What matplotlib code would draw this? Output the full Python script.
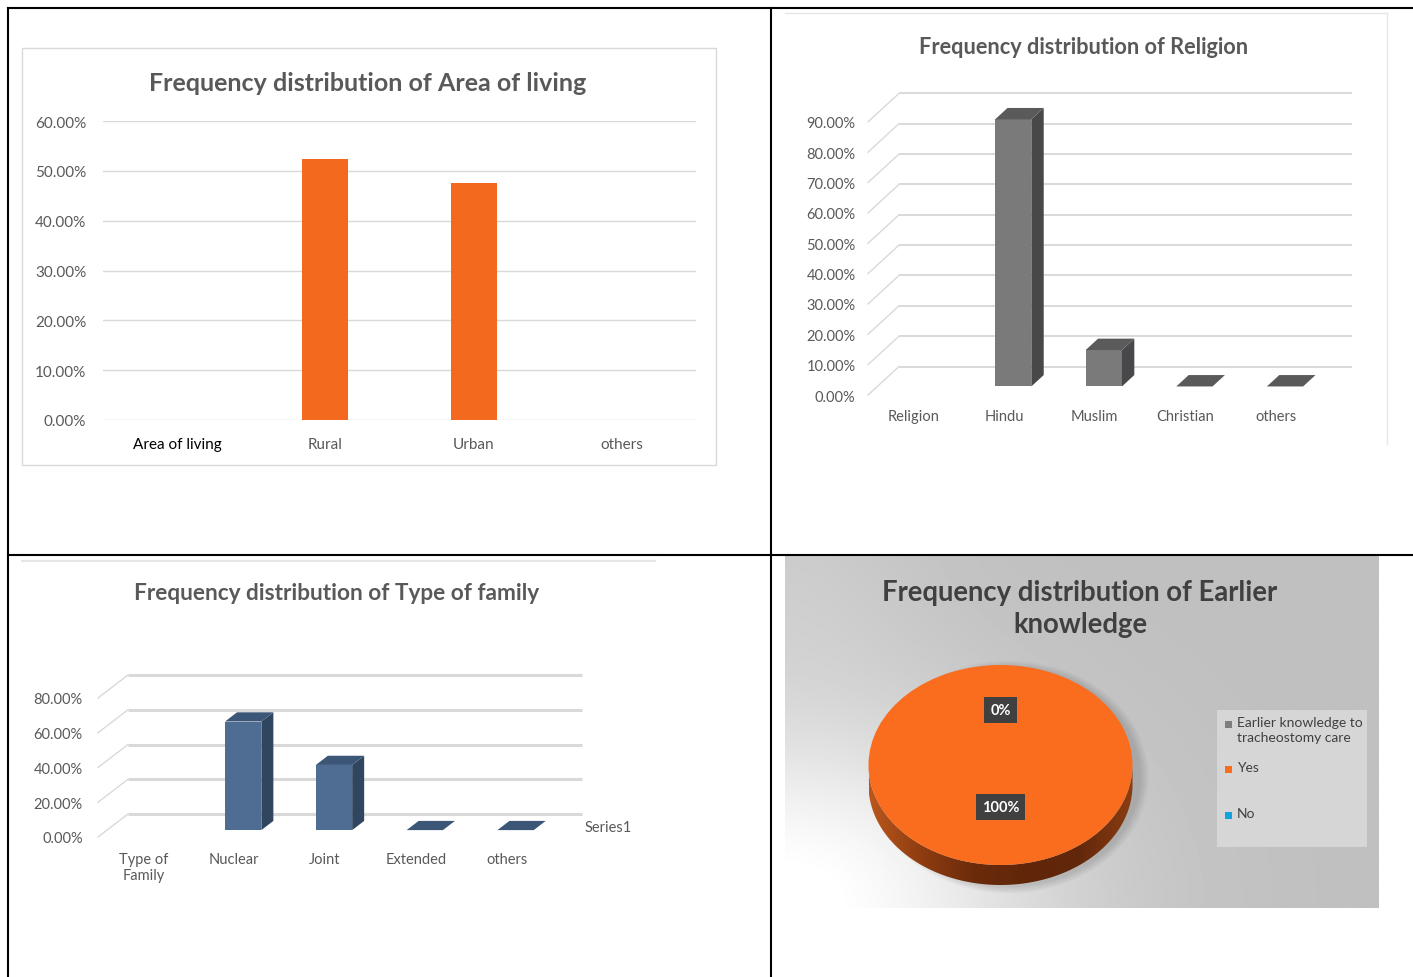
import numpy as np
import matplotlib
matplotlib.use('Agg')
import matplotlib.pyplot as plt
from matplotlib.patches import Rectangle, Polygon, Ellipse
from matplotlib.lines import Line2D
from matplotlib.colors import LinearSegmentedColormap

# ---------------- data ----------------
area_categories = ['Area of living', 'Rural', 'Urban', 'others']
area_values = [0.0, 52.4, 47.6, 0.0]
area_yticks = [0, 10, 20, 30, 40, 50, 60]

religion_categories = ['Religion', 'Hindu', 'Muslim', 'Christian', 'others']
religion_values = [None, 88.0, 12.0, 0.0, 0.0]
religion_yticks = [0, 10, 20, 30, 40, 50, 60, 70, 80, 90]

family_categories = ['Type of\nFamily', 'Nuclear', 'Joint', 'Extended', 'others']
family_values = [None, 62.5, 37.5, 0.0, 0.0]
family_yticks = [0, 20, 40, 60, 80]
family_series = 'Series1'

knowledge_labels = ['Earlier knowledge to\ntracheostomy care', 'Yes', 'No']
knowledge_values = [0, 100, 0]

titles = ['Frequency distribution of Area of living',
          'Frequency distribution of Religion',
          'Frequency distribution of Type of family',
          'Frequency distribution of Earlier\nknowledge']

# ---------------- figure helpers ----------------
W, H = 1413, 978
plt.rcParams['font.family'] = ['Lato', 'DejaVu Sans']
fig = plt.figure(figsize=(W / 100, H / 100), dpi=100)
fig.patch.set_facecolor('white')
GRAY = '#595959'


def px_axes(x0, y0, x1, y1, **kw):
    return fig.add_axes([x0 / W, 1 - y1 / H, (x1 - x0) / W, (y1 - y0) / H], **kw)


def fig_line(xs, ys, **kw):
    fig.add_artist(Line2D([x / W for x in xs], [1 - y / H for y in ys],
                          transform=fig.transFigure, **kw))


def fig_rect(x0, y0, x1, y1, **kw):
    fig.add_artist(Rectangle((x0 / W, 1 - y1 / H), (x1 - x0) / W, (y1 - y0) / H,
                             transform=fig.transFigure, **kw))


def fig_text(x, y, s, **kw):
    return fig.text(x / W, 1 - y / H, s, **kw)


# ---------------- table borders ----------------
fig_line([8, 1413], [9, 9], color='black', lw=1.5)
fig_line([8, 8], [9, 978], color='black', lw=1.5)
fig_line([771, 771], [9, 978], color='black', lw=1.5)
fig_line([8, 1413], [556, 556], color='black', lw=1.5)

# ---------------- chart 1 : Area of living ----------------
fig_rect(22, 49, 716, 466, fc='none', ec='#D9D9D9', lw=1)
fig_text(368, 84, titles[0], ha='center', va='center', fontsize=18,
         fontweight='bold', color=GRAY)
ax1 = px_axes(103, 122, 696, 421)
x1 = np.arange(len(area_categories))
ax1.bar(x1, area_values, width=0.31, color='#F36A1F', zorder=3)
ax1.set_xlim(-0.5, len(area_categories) - 0.5)
ax1.set_ylim(0, area_yticks[-1])
ax1.set_yticks(area_yticks)
ax1.set_yticklabels([f'{v:.2f}%' for v in area_yticks])
ax1.set_xticks(x1)
ax1.set_xticklabels(area_categories)
ax1.yaxis.grid(True, color='#D9D9D9', lw=1)
ax1.set_axisbelow(True)
for s in ax1.spines.values():
    s.set_visible(False)
ax1.tick_params(axis='both', length=0, labelsize=11, labelcolor=GRAY)
ax1.tick_params(axis='x', pad=12)
ax1.tick_params(axis='y', pad=12)
for i, lab in enumerate(ax1.get_xticklabels()):
    lab.set_color('black' if i == 0 else GRAY)


# ---------------- oblique 3D column chart helper ----------------
def oblique_chart(cats, vals, yticks, front_left, front_right, zero_y, px_per_unit,
                  depth_px, faces, grid_lw, diag_lw, fs, xpad, ypad):
    n = len(cats)
    cat_px = (front_right - front_left) / n
    ddx = depth_px[0] / cat_px
    ddy = depth_px[1] / px_per_unit
    right_px = front_right + depth_px[0]
    top_px = zero_y - (yticks[-1] * px_per_unit + depth_px[1]) - 3
    ax = px_axes(front_left, top_px, right_px, zero_y)
    ax.set_xlim(0, n + ddx)
    ax.set_ylim(0, (zero_y - top_px) / px_per_unit)
    for v in yticks:
        ax.plot([ddx, n + ddx], [v + ddy, v + ddy], color='#D9D9D9', lw=grid_lw,
                solid_capstyle='butt', zorder=1, clip_on=False)
        ax.plot([0, ddx], [v, v + ddy], color='#D9D9D9', lw=diag_lw, zorder=1,
                clip_on=False)
    w, d0, d1 = 0.4, 0.3, 0.7
    front_c, side_c, top_c = faces
    for i, v in enumerate(vals):
        if v is None:
            continue
        c = i + 0.5
        xl = c - w / 2 + d0 * ddx
        xr = c + w / 2 + d0 * ddx
        yb = d0 * ddy
        yt = yb + v
        ex = (d1 - d0) * ddx
        ey = (d1 - d0) * ddy
        if v > 0:
            ax.add_patch(Polygon([(xl, yb), (xr, yb), (xr, yt), (xl, yt)], closed=True,
                                 fc=front_c, ec='none', zorder=3))
            ax.add_patch(Polygon([(xr, yb), (xr + ex, yb + ey), (xr + ex, yt + ey), (xr, yt)],
                                 closed=True, fc=side_c, ec='none', zorder=3))
        ax.add_patch(Polygon([(xl, yt), (xr, yt), (xr + ex, yt + ey), (xl + ex, yt + ey)],
                             closed=True, fc=top_c, ec='none', zorder=3))
    ax.set_xticks(np.arange(n) + 0.5)
    ax.set_xticklabels(cats)
    ax.set_yticks(yticks)
    ax.set_yticklabels([f'{v:.2f}%' for v in yticks])
    for s in ax.spines.values():
        s.set_visible(False)
    ax.patch.set_alpha(0)
    ax.tick_params(axis='both', length=0, labelsize=fs, labelcolor=GRAY)
    ax.tick_params(axis='x', pad=xpad)
    ax.tick_params(axis='y', pad=ypad)
    return ax


# ---------------- chart 2 : Religion ----------------
fig_line([785, 1387], [14, 14], color='#E6E6E6', lw=1)
fig_line([1387, 1387], [14, 445], color='#E6E6E6', lw=1)
fig_text(1084, 47, titles[1], ha='center', va='center', fontsize=15.7,
         fontweight='bold', color=GRAY)
oblique_chart(religion_categories, religion_values, religion_yticks,
              868, 1321, 396, 3.035, (31, 28.5),
              ('#7A7A7A', '#48484A', '#5A5A5A'), 1.4, 1.0, 10.5, 10, 9)

# ---------------- chart 3 : Type of family ----------------
fig_line([22, 655], [562, 562], color='#E6E6E6', lw=1.5)
fig_text(337, 593, titles[2], ha='center', va='center', fontsize=16.3,
         fontweight='bold', color=GRAY)
oblique_chart(family_categories, family_values, family_yticks,
              98, 552, 838, 1.7375, (30, 23),
              ('#4F6C92', '#2F4560', '#3C5677'), 2.2, 1.0, 10.5, 11, 11)
fig_text(585, 828, family_series, ha='left', va='center', fontsize=10.5, color=GRAY)

# ---------------- chart 4 : Earlier knowledge (pie) ----------------
bx0, by0, bx1, by1 = 785, 557, 1378, 908
bg = px_axes(bx0, by0, bx1 + 1, by1 + 1)
xs = np.linspace(bx0, bx1, 600)
ys = np.linspace(by0, by1, 360)
X, Y = np.meshgrid(xs, ys)
val = (0.75
       + 0.26 * np.exp(-(((X - 785) / 260) ** 2 + ((Y - 905) / 190) ** 2))
       + 0.04 * np.exp(-(((X - 785) / 140) ** 2 + ((Y - 580) / 120) ** 2)))
val = np.clip(val, 0, 1)
bg.imshow(val, cmap='gray', vmin=0, vmax=1, extent=(bx0, bx1, by1, by0), aspect='auto')
bg.set_xlim(bx0, bx1)
bg.set_ylim(by1, by0)
bg.axis('off')

fig_text(1080, 609, titles[3], ha='center', va='center', fontsize=19.8,
         fontweight='bold', color='#404040', linespacing=1.33)

cx, cy, rx, ry, depth_px = 1000.5, 766, 132, 100, 20
mx, my = 20, 20
axp = px_axes(cx - rx - mx, cy - ry - my, cx + rx + mx, cy + ry + depth_px + my)
depth = depth_px / ry

# soft shadow to the right
for k in range(6):
    sh = Ellipse((0.06, -depth / 2 - 0.02), 2.0 + 0.025 * k, 2.0 + depth + 0.025 * k,
                 fc='black', alpha=0.025, ec='none', zorder=0)
    axp.add_patch(sh)

t = np.linspace(np.pi, 2 * np.pi, 200)
side_pts = np.r_[np.c_[np.cos(t), np.sin(t)], np.c_[np.cos(t[::-1]), np.sin(t[::-1]) - depth]]
side = Polygon(side_pts, closed=True, fc='none', ec='none')
axp.add_patch(side)
side_cmap = LinearSegmentedColormap.from_list(
    'side', ['#B9571C', '#8E3C10', '#6B2B0B', '#60260A', '#63280B', '#8A3D12'])
grad = np.linspace(0, 1, 256).reshape(1, -1)
im = axp.imshow(grad, cmap=side_cmap, extent=(-1, 1, -1 - depth, 0), aspect='auto', zorder=1)
im.set_clip_path(side)

pie_colors = ['#7F7F7F', '#FA6C1E', '#12A2DD']
axp.pie(knowledge_values, colors=pie_colors, startangle=90, counterclock=False,
        radius=1, wedgeprops=dict(linewidth=0, zorder=2))
axp.set_aspect('auto')
axp.set_xlim(-(rx + mx) / rx, (rx + mx) / rx)
axp.set_ylim(-(ry + depth_px + my) / ry, (ry + my) / ry)
axp.axis('off')

label_r = [None, 0.42, 0.55]
total = float(sum(knowledge_values))
cum = 0.0
for i, v in enumerate(knowledge_values):
    frac = v / total
    ang = np.deg2rad(90 - 360 * (cum + frac / 2))
    cum += frac
    if label_r[i] is None:
        continue
    axp.text(label_r[i] * np.cos(ang), label_r[i] * np.sin(ang), f'{100 * frac:.0f}%',
             ha='center', va='center', fontsize=10.5, fontweight='bold', color='white',
             zorder=5, bbox=dict(boxstyle='square,pad=0.4', fc='#404040', ec='none'))

# legend
fig_rect(1217, 711, 1367, 848, fc='#D6D6D6', ec='none')
leg_y = [725, 770, 816]
for lab, col, yy in zip(knowledge_labels, pie_colors, leg_y):
    fig_rect(1225, yy - 3.5, 1232, yy + 3.5, fc=col, ec='none')
    fig_text(1237, yy - 8, lab, ha='left', va='top', fontsize=10, color='#404040',
             linespacing=1.3)

fig.savefig('out.png', dpi=100, facecolor='white')
